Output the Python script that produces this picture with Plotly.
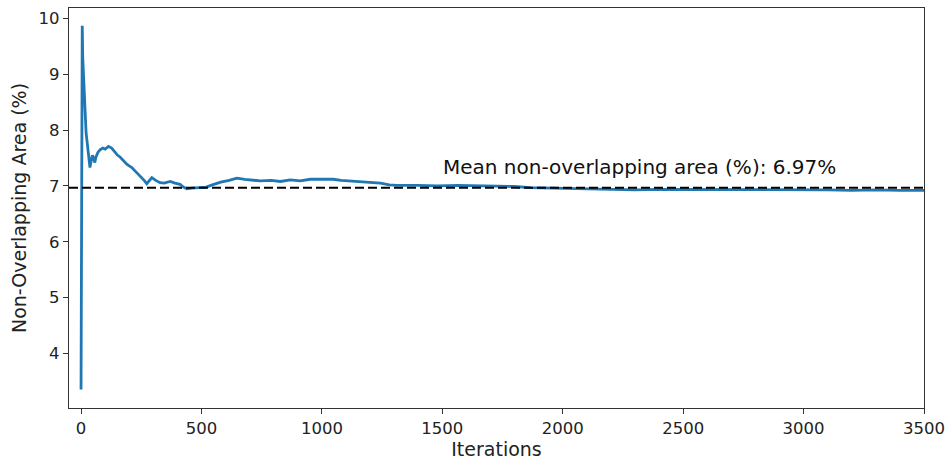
import plotly.graph_objects as go

iterations = [0, 2, 3, 5, 7, 10, 13, 17, 21, 25, 29, 33, 37, 42, 47, 52, 57, 62, 70, 79,
              90, 100, 114, 127, 141, 152, 162, 175, 190, 200, 211, 222, 231, 242, 252,
              262, 273, 283, 294, 310, 328, 345, 370, 390, 411, 425, 439, 460, 495, 520,
              545, 580, 615, 647, 680, 744, 790, 827, 869, 910, 952, 1000, 1047, 1080,
              1118, 1150, 1187, 1243, 1280, 1312, 1400, 1480, 1563, 1650, 1741, 1800,
              1866, 1950, 2000, 2100, 2200, 2300, 2400, 2500, 2600, 2700, 2800, 2900,
              3000, 3100, 3200, 3300, 3400, 3500]
area_pct = [3.35, 8.7, 8.3, 9.87, 9.3, 8.95, 8.55, 8.1, 7.95, 7.8, 7.65, 7.45, 7.33, 7.45,
            7.55, 7.5, 7.42, 7.52, 7.6, 7.65, 7.68, 7.66, 7.71, 7.68, 7.6, 7.55, 7.52,
            7.45, 7.39, 7.36, 7.33, 7.28, 7.24, 7.2, 7.15, 7.1, 7.04, 7.1, 7.15, 7.1,
            7.06, 7.05, 7.08, 7.05, 7.03, 6.98, 6.95, 6.96, 6.97, 6.98, 7.02, 7.07, 7.1,
            7.14, 7.12, 7.09, 7.1, 7.08, 7.11, 7.09, 7.12, 7.12, 7.12, 7.1, 7.09, 7.08,
            7.06, 7.05, 7.02, 7.01, 7.01, 7.0, 7.01, 7.0, 7.0, 6.99, 6.97, 6.96, 6.96,
            6.95, 6.94, 6.93, 6.94, 6.94, 6.94, 6.94, 6.93, 6.93, 6.93, 6.93, 6.92, 6.93,
            6.92, 6.92]
mean_value = 6.97
annotation_x = 1500
x_ticks = [0, 500, 1000, 1500, 2000, 2500, 3000, 3500]
y_ticks = [4, 5, 6, 7, 8, 9, 10]

FONT = "DejaVu Sans"

fig = go.Figure()
fig.add_trace(go.Scatter(x=iterations, y=area_pct, mode="lines",
                         line=dict(color="#1f77b4", width=2.8), showlegend=False))
fig.add_shape(type="line", xref="paper", x0=0, x1=1, yref="y", y0=mean_value, y1=mean_value,
              line=dict(color="black", width=2, dash="9px,4px"))
fig.add_annotation(x=annotation_x, y=mean_value + 0.12, xref="x", yref="y",
                   text=f"Mean non-overlapping area (%): {mean_value:.2f}%",
                   showarrow=False, xanchor="left", yanchor="bottom", xshift=-1,
                   font=dict(family=FONT, size=20, color="#111"))

axis_common = dict(showline=True, linecolor="#333", linewidth=1.2, mirror=True,
                   ticks="outside", ticklen=5, tickcolor="#333", showgrid=False,
                   zeroline=False, automargin=False,
                   tickfont=dict(family=FONT, size=16.5, color="#222"))
fig.update_xaxes(range=[-50, 3500], tickvals=x_ticks,
                 title=dict(text="Iterations", font=dict(family=FONT, size=19, color="#222"),
                            standoff=3), **axis_common)
fig.update_yaxes(range=[3.02, 10.19], tickvals=y_ticks,
                 title=dict(text="Non-Overlapping Area (%)",
                            font=dict(family=FONT, size=19, color="#222"), standoff=6),
                 **axis_common)
fig.update_layout(width=946, height=461, margin=dict(l=69, r=22, t=8, b=53),
                  plot_bgcolor="white", paper_bgcolor="white")
fig.write_html("out.html")
